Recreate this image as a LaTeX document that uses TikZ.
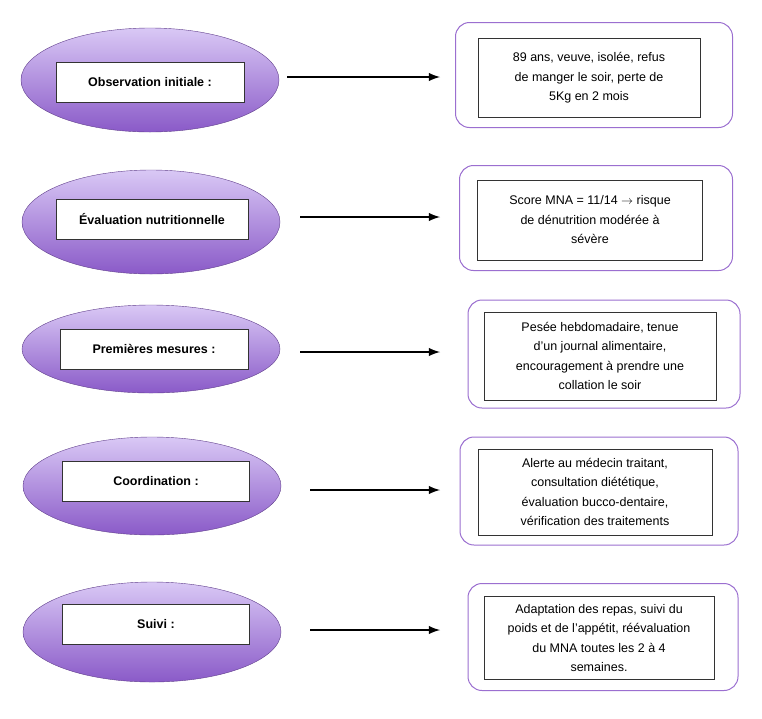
\documentclass[tikz,border=0pt]{standalone}
\usepackage{fontspec}
\setmainfont{Liberation Sans}
\usetikzlibrary{calc, shapes.geometric}
\definecolor{lilac}{HTML}{D9C8F5}
\definecolor{violet}{HTML}{8A5AC8}
\definecolor{frame}{HTML}{9B6FD0}
\tikzstyle{phase}=[ellipse, minimum width=258pt, minimum height=104pt, inner sep=0, draw=violet!70!black, top color=lilac, bottom color=violet]
\tikzstyle{tag}=[draw=black!80, fill=white, minimum height=40pt, inner sep=2pt, font=\bfseries\fontsize{12.5}{14}\selectfont]
\tikzstyle{card}=[rounded corners=14pt, draw=frame, line width=1pt, fill=white]
\tikzstyle{note}=[draw=black!80, align=center, inner sep=3pt, font=\fontsize{12.5}{19.5}\selectfont]
\tikzstyle{flow}=[-latex, line width=2.8pt]

\begin{document}
\begin{tikzpicture}[x=1pt, y=-1pt]
\useasboundingbox (0, 0) rectangle (762, 718);

\node [phase] (e1) at (150, 80) {};
\node [phase] (e2) at (151, 222) {};
\node [phase, minimum height=88pt] (e3) at (151, 349) {};
\node [phase, minimum height=98pt] (e4) at (152, 486) {};
\node [phase, minimum height=100pt] (e5) at (152, 632) {};

\node [tag, minimum width=188pt] (t1) at (150, 82) {Observation initiale :};
\node [tag, minimum width=192pt] (t2) at (152, 219) {Évaluation nutritionnelle};
\node [tag, minimum width=188pt] (t3) at (154, 349) {Premières mesures :};
\node [tag, minimum width=187pt] (t4) at (156, 481) {Coordination :};
\node [tag, minimum width=187pt] (t5) at (156, 624) {Suivi :};

\node [card, minimum width=277pt, minimum height=105pt] (c1) at (594, 75) {};
\node [card, minimum width=273pt, minimum height=105pt] (c2) at (596, 218) {};
\node [card, minimum width=272pt, minimum height=108pt] (c3) at (604, 354) {};
\node [card, minimum width=278pt, minimum height=108pt] (c4) at (599, 491) {};
\node [card, minimum width=270pt, minimum height=107pt] (c5) at (603, 637) {};

\node [note, minimum width=222pt, minimum height=79pt] (n1) at (589, 78) {89 ans, veuve, isolée, refus\\de manger le soir, perte de\\5Kg en 2 mois};
\node [note, minimum width=225pt, minimum height=80pt] (n2) at (590, 220) {Score MNA = 11/14 $\rightarrow$ risque\\de dénutrition modérée à\\sévère};
\node [note, minimum width=232pt, minimum height=88pt] (n3) at (600, 356) {Pesée hebdomadaire, tenue\\d’un journal alimentaire,\\encouragement à prendre une\\collation le soir};
\node [note, minimum width=234pt, minimum height=86pt] (n4) at (595, 492) {Alerte au médecin traitant,\\consultation diététique,\\évaluation bucco-dentaire,\\vérification des traitements};
\node [note, minimum width=230pt, minimum height=83pt] (n5) at (599, 638) {Adaptation des repas, suivi du\\poids et de l’appétit, réévaluation\\du MNA toutes les 2 à 4\\semaines.};

\coordinate (a1) at (287, 77);
\coordinate (a2) at (300, 217);
\coordinate (a3) at (300, 352);
\coordinate (a4) at (310, 490);
\coordinate (a5) at (310, 630);

\coordinate (b1) at (440, 77);
\coordinate (b2) at (440, 217);
\coordinate (b3) at (440, 352);
\coordinate (b4) at (440, 490);
\coordinate (b5) at (440, 630);

\draw [flow] (a1) -- (b1);
\draw [flow] (a2) -- (b2);
\draw [flow] (a3) -- (b3);
\draw [flow] (a4) -- (b4);
\draw [flow] (a5) -- (b5);

\end{tikzpicture}
\end{document}
